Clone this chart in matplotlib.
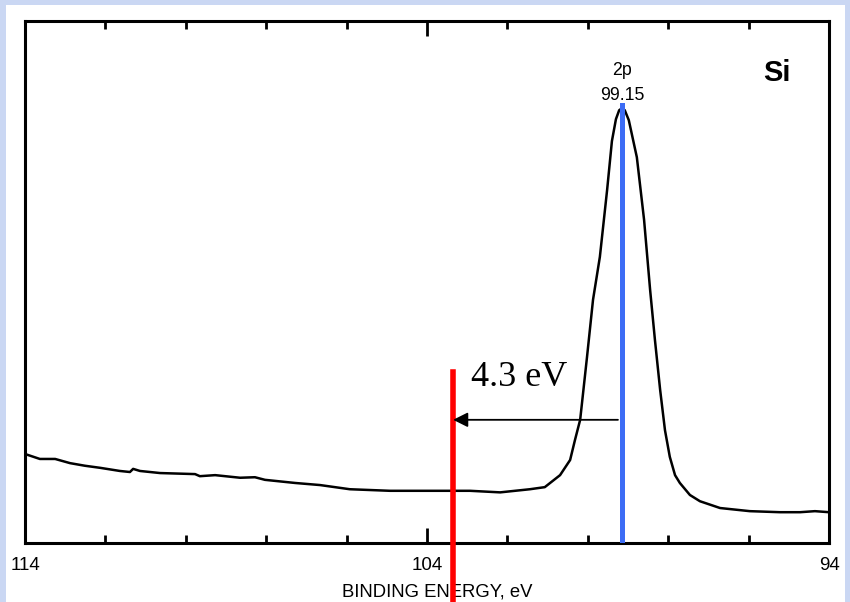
import matplotlib.pyplot as plt
from matplotlib.patches import Rectangle
from matplotlib.ticker import FixedLocator

# Si 2p XPS spectrum (intensity in arbitrary units, 0-100)
binding_energy = [
    113.98, 113.63, 113.25, 112.88, 112.51, 112.13, 111.64, 111.39, 111.31, 111.14,
    110.64, 109.77, 109.65, 109.27, 108.65, 108.28, 108.03, 107.28, 106.66, 105.92,
    104.92, 103.93, 102.93, 102.18, 101.44, 101.07, 100.69, 100.44, 100.32, 100.19,
    100.02, 99.87, 99.70, 99.52, 99.40, 99.30, 99.22, 99.15, 99.08, 98.98, 98.78, 98.60,
    98.45, 98.33, 98.20, 98.08, 97.96, 97.83, 97.71, 97.46, 97.21, 96.71,
    95.97, 95.22, 94.72, 94.35, 94.00,
]
intensity = [
    17.0, 16.1, 16.1, 15.3, 14.8, 14.4, 13.8, 13.6, 14.2, 13.8,
    13.4, 13.2, 12.8, 13.0, 12.5, 12.6, 12.1, 11.5, 11.1, 10.3,
    10.0, 10.0, 10.0, 9.7, 10.3, 10.7, 13.0, 15.9, 19.7, 23.6,
    35.6, 46.6, 54.8, 67.6, 77.0, 81.2, 82.9, 83.3, 82.9, 81.0, 73.9, 61.9,
    48.5, 38.9, 29.3, 21.6, 16.5, 13.0, 11.5, 9.2, 8.0, 6.7,
    6.1, 5.9, 5.9, 6.1, 5.9,
]

peak_energy = 99.15
shifted_energy = 103.35
shift_label = "4.3 eV"
major_ticks = [114, 104, 94]
minor_ticks = list(range(94, 115, 2))

fig = plt.figure(figsize=(8.5, 6.02), dpi=100, facecolor="#cad7f3")
fig.patches.append(Rectangle((6 / 850, 0), 839 / 850, 597 / 602, transform=fig.transFigure,
                             facecolor="white", edgecolor="none", zorder=-10))

ax = fig.add_axes([25 / 850, 59 / 602, 804 / 850, 522 / 602])
ax.set_zorder(1)
ax.set_facecolor("white")
ax.plot(binding_energy, intensity, color="black", linewidth=1.8, zorder=3)

# peak position and shifted reference
ax.plot([peak_energy, peak_energy], [0.6, 83.9], color="#3c6cf5", linewidth=3.6, zorder=4)
ax.plot([shifted_energy, shifted_energy], [32.8, -11.5], color="#ff0000", linewidth=4.0,
        zorder=5, clip_on=False)
ax.annotate("", xy=(shifted_energy, 23.6), xytext=(peak_energy + 0.1, 23.6),
            arrowprops={"arrowstyle": "-|>", "color": "black", "lw": 1.3,
                        "mutation_scale": 22, "shrinkA": 0, "shrinkB": 0}, zorder=6)
ax.text(101.71, 31.8, shift_label, family="Liberation Serif", fontsize=26,
        ha="center", va="center")

ax.text(peak_energy, 90.5, "2p", family="Liberation Sans", fontsize=12.8, ha="center", va="center")
ax.text(peak_energy, 85.8, "99.15", family="Liberation Sans", fontsize=12.8, ha="center", va="center")
ax.text(95.3, 90.0, "Si", family="Liberation Sans", fontweight="bold", fontsize=21,
        ha="center", va="center")

ax.set_xlim(114, 94)
ax.set_ylim(0, 100)
ax.xaxis.set_major_locator(FixedLocator(major_ticks))
ax.xaxis.set_minor_locator(FixedLocator(minor_ticks))
ax.set_xticklabels([str(t) for t in major_ticks], family="Liberation Sans", fontsize=13.5)
ax.tick_params(axis="x", which="major", direction="in", length=11, width=2, top=True, pad=10)
ax.tick_params(axis="x", which="minor", direction="in", length=6, width=2, top=True)
ax.set_yticks([])
ax.set_xlabel("BINDING ENERGY, eV", family="Liberation Sans", fontsize=13.3, labelpad=4)
ax.xaxis.set_label_coords(0.513, -0.077)
for spine in ax.spines.values():
    spine.set_linewidth(2.2)

fig.savefig("out.png", dpi=100, facecolor=fig.get_facecolor())
